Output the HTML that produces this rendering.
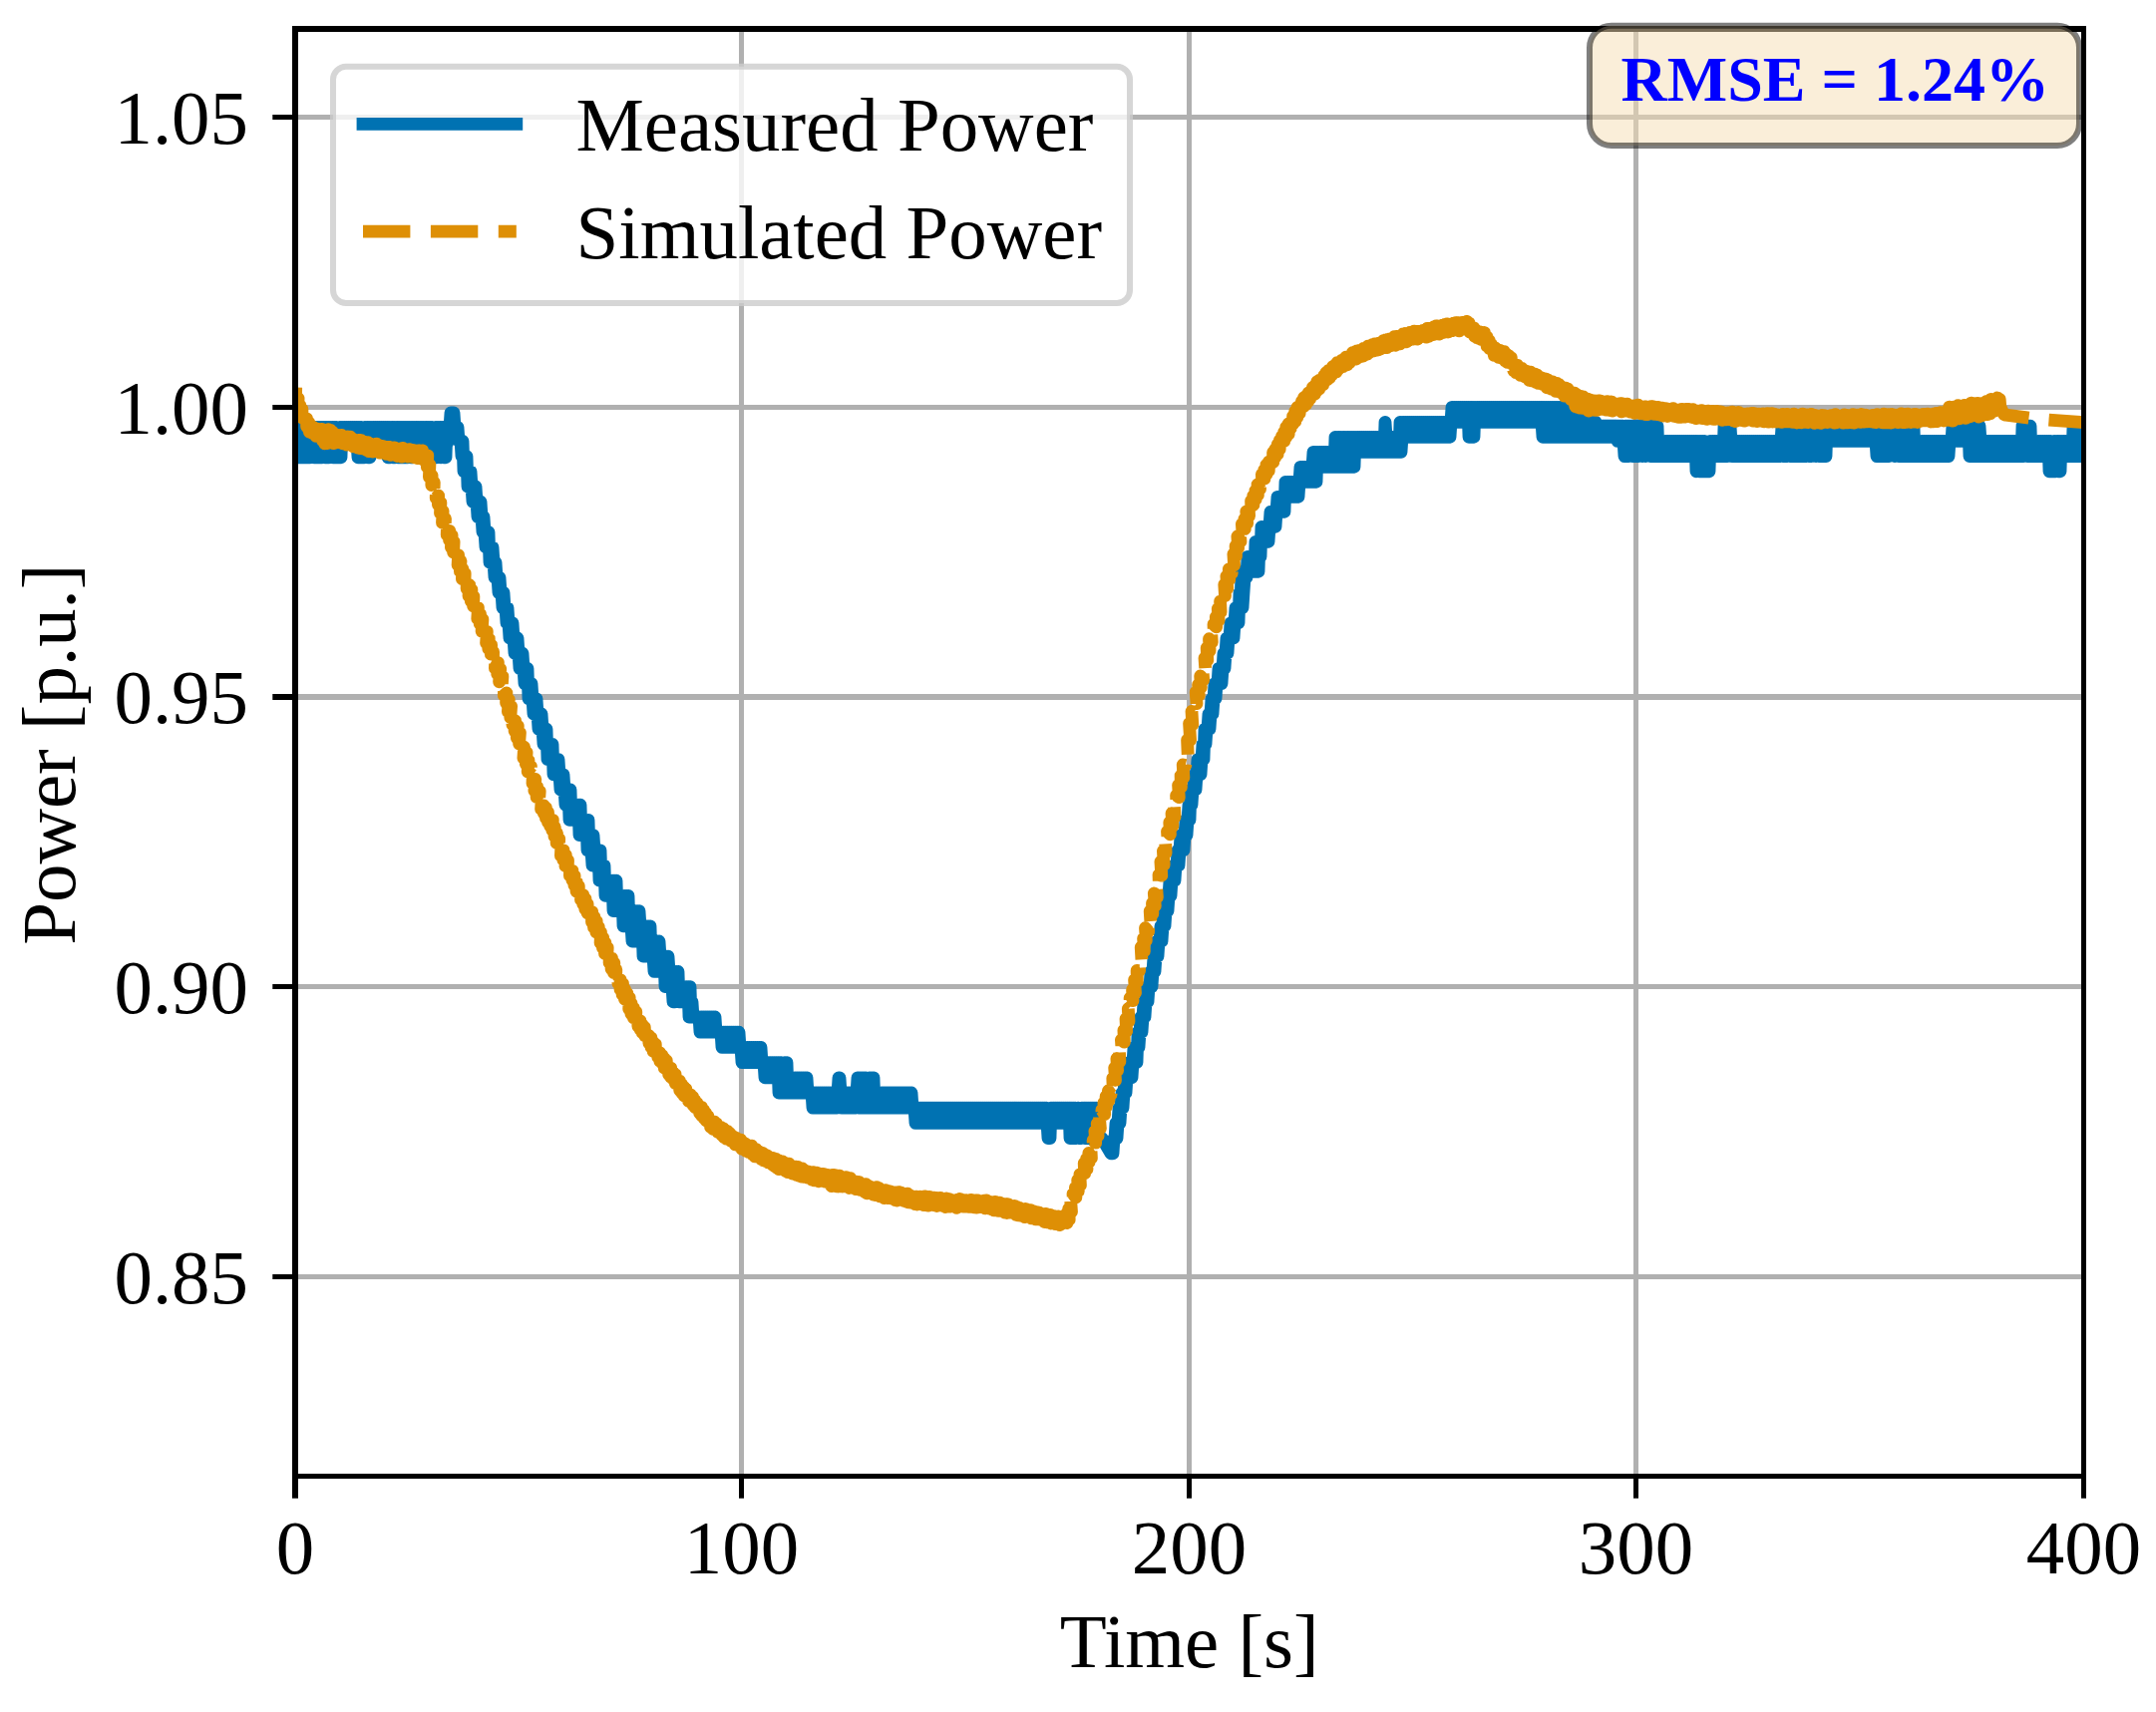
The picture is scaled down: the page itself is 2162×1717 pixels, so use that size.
<!DOCTYPE html>
<html lang="en"><head><meta charset="utf-8"><title>Measured vs Simulated Power</title>
<style>html,body{margin:0;padding:0;background:#fff}svg{display:block}text{font-family:"Liberation Serif",serif;fill:#000}</style></head><body>
<svg width="2162" height="1717" viewBox="0 0 2162 1717">
<rect width="2162" height="1717" fill="#fff"/>
<defs><clipPath id="ax"><rect x="296" y="29" width="1793.5" height="1451.5"/></clipPath></defs>
<g fill="#b0b0b0">
<rect x="741" y="29" width="5" height="1452"/>
<rect x="1190" y="29" width="5" height="1452"/>
<rect x="1638" y="29" width="5" height="1452"/>
<rect x="296" y="115" width="1794" height="5"/>
<rect x="296" y="406" width="1794" height="5"/>
<rect x="296" y="696" width="1794" height="6"/>
<rect x="296" y="987" width="1794" height="5"/>
<rect x="296" y="1278" width="1794" height="5"/>
</g>
<g clip-path="url(#ax)" fill="none" stroke-linejoin="round">
<polyline stroke="#0072b2" stroke-width="12.8" points="296,428.5 297,458.8 298,428.5 299,458.8 300,428.5 301,458.8 302,428.5 303,458.8 304,428.5 305,458.8 306,428.5 307,458.8 308,428.5 309,458.8 310,428.5 311,458.8 312,428.5 313,443.7 314,428.5 315,458.8 316,428.5 317,458.8 318,428.5 319,458.8 320,428.5 321,458.8 322,428.5 323,458.8 324,428.5 325,443.7 326,458.8 327,428.5 328,458.8 329,428.5 330,458.8 331,428.5 332,443.7 333,428.5 334,458.8 335,428.5 336,458.8 337,428.5 338,458.8 339,443.7 340,458.8 341,428.5 342,458.8 343,428.5 344,443.7 345,428.5 346,443.7 347,428.5 348,443.7 349,428.5 350,443.7 351,428.5 352,443.7 353,428.5 354,443.7 355,428.5 356,443.7 357,428.5 358,443.7 359,458.8 360,428.5 361,458.8 362,428.5 363,458.8 364,443.7 365,458.8 366,428.5 367,443.7 368,428.5 369,458.8 370,428.5 371,458.8 372,428.5 373,443.7 374,428.5 375,443.7 376,428.5 377,443.7 378,428.5 379,443.7 380,428.5 381,443.7 382,428.5 383,443.7 384,428.5 385,443.7 386,428.5 387,443.7 388,428.5 389,458.8 390,428.5 391,458.8 392,443.7 393,428.5 394,458.8 395,428.5 396,458.8 397,443.7 398,428.5 399,458.8 400,428.5 401,458.8 402,428.5 403,458.8 404,428.5 405,458.8 406,428.5 407,458.8 408,428.5 409,458.8 410,428.5 411,443.7 412,458.8 413,428.5 414,458.8 415,428.5 416,443.7 417,428.5 418,458.8 419,428.5 420,443.7 421,458.8 422,428.5 423,458.8 424,428.5 425,458.8 426,443.7 427,428.5 428,458.8 429,428.5 430,458.8 431,428.5 432,458.8 433,428.5 434,458.8 435,443.7 436,458.8 437,428.5 438,458.8 439,428.5 440,443.7 441,428.5 442,458.8 443,443.7 444,428.5 445,458.8 446,428.5 447,458.8 448,428.5 449,443.7 450,428.5 451,428.5 452,414 453,414 454,414 455,414 456,428.5 457,428.5 458,428.5 459,428.5 460,442.4 461,442.4 462,442.4 463,457.6 464,442.4 465,472.8 466,457.6 467,472.8 468,457.6 469,488 470,472.8 471,488 472,472.8 473,488 474,503.2 475,488 476,503.2 477,488 478,503.2 479,518.4 480,503.2 481,518.4 482,503.2 483,518.4 484,533.6 485,518.4 486,533.6 487,548.8 488,533.6 489,548.8 490,533.6 491,564 492,548.8 493,564 494,548.8 495,564 496,579.2 497,564 498,579.2 499,579.2 500,594.4 501,579.2 502,594.4 503,594.4 504,609.6 505,594.4 506,609.6 507,609.6 508,624.8 509,609.6 510,624.8 511,640 512,624.8 513,640 514,624.8 515,640 516,655.2 517,640 518,655.2 519,640 520,655.2 521,670.4 522,655.2 523,670.4 524,655.2 525,670.4 526,685.6 527,670.4 528,685.6 529,670.4 530,700.8 531,685.6 532,700.8 533,685.6 534,700.8 535,716 536,700.8 537,716 538,700.8 539,716 540,731.2 541,716 542,731.2 543,716 544,731.2 545,746.4 546,731.2 547,746.4 548,731.2 549,761.6 550,746.4 551,761.6 552,746.4 553,761.6 554,746.4 555,776.8 556,761.6 557,776.8 558,761.6 559,776.8 560,761.6 561,776.8 562,792 563,776.8 564,792 565,776.8 566,792 567,807.2 568,792 569,807.2 570,792 571,822.4 572,792 573,822.4 574,807.2 575,822.4 576,807.2 577,822.4 578,807.2 579,822.4 580,807.2 581,837.6 582,807.2 583,837.6 584,822.4 585,837.6 586,822.4 587,837.6 588,822.4 589,852.8 590,822.4 591,852.8 592,837.6 593,852.8 594,868 595,837.6 596,852.8 597,868 598,852.8 599,868 600,852.8 601,883.2 602,852.8 603,883.2 604,868 605,883.2 606,868 607,898.4 608,883.2 609,898.4 610,883.2 611,898.4 612,883.2 613,898.4 614,883.2 615,913.6 616,883.2 617,913.6 618,883.2 619,913.6 620,898.4 621,913.6 622,898.4 623,913.6 624,898.4 625,928.8 626,898.4 627,928.8 628,898.4 629,928.8 630,898.4 631,928.8 632,913.6 633,928.8 634,944 635,913.6 636,944 637,913.6 638,944 639,913.6 640,944 641,913.6 642,928.8 643,944 644,928.8 645,959.2 646,928.8 647,959.2 648,928.8 649,959.2 650,928.8 651,959.2 652,928.8 653,959.2 654,944 655,959.2 656,974.4 657,944 658,974.4 659,944 660,974.4 661,944 662,959.2 663,974.4 664,959.2 665,974.4 666,959.2 667,989.6 668,959.2 669,989.6 670,959.2 671,974.4 672,989.6 673,974.4 674,989.6 675,1004.8 676,974.4 677,1004.8 678,974.4 679,989.6 680,974.4 681,1004.8 682,989.6 683,1004.8 684,989.6 685,1004.8 686,989.6 687,1004.8 688,989.6 689,1004.8 690,989.6 691,1020 692,989.6 693,1020 694,1004.8 695,1020 697,1020 698,1020 699,1020 700,1020 701,1020 702,1035.2 703,1020 704,1035.2 705,1020 706,1035.2 707,1020 708,1035.2 709,1020 710,1035.2 711,1020 712,1035.2 713,1020 714,1035.2 715,1020 716,1035.2 717,1020 718,1035.2 719,1035.2 720,1035.2 721,1035.2 722,1035.2 723,1035.2 724,1050.4 725,1035.2 726,1050.4 727,1035.2 728,1050.4 729,1035.2 730,1050.4 731,1035.2 732,1050.4 733,1035.2 734,1050.4 735,1035.2 736,1050.4 737,1035.2 738,1050.4 739,1035.2 740,1050.4 741,1035.2 742,1050.4 743,1050.4 744,1065.6 745,1050.4 746,1065.6 747,1050.4 748,1065.6 749,1050.4 750,1065.6 751,1050.4 752,1065.6 753,1050.4 754,1065.6 755,1050.4 756,1065.6 757,1050.4 758,1065.6 759,1050.4 760,1065.6 761,1050.4 762,1065.6 763,1050.4 764,1065.6 765,1065.6 766,1065.6 767,1080.8 768,1065.6 769,1080.8 770,1065.6 771,1080.8 772,1065.6 773,1080.8 774,1065.6 775,1080.8 776,1065.6 777,1080.8 778,1065.6 779,1080.8 780,1065.6 781,1096 782,1080.8 783,1065.6 784,1096 785,1080.8 786,1096 787,1065.6 788,1096 789,1065.6 790,1096 791,1080.8 792,1096 793,1080.8 794,1096 795,1080.8 796,1096 797,1080.8 798,1096 799,1080.8 800,1096 801,1080.8 802,1096 803,1080.8 804,1096 805,1080.8 806,1096 807,1080.8 808,1096 809,1080.8 810,1096 811,1096 812,1096 813,1096 814,1096 815,1111.2 816,1096 817,1111.2 818,1096 819,1111.2 820,1096 821,1111.2 822,1096 823,1111.2 824,1096 825,1111.2 826,1096 827,1111.2 828,1096 829,1111.2 830,1096 831,1111.2 832,1096 833,1111.2 834,1096 835,1111.2 836,1096 837,1111.2 838,1096 839,1111.2 840,1096 841,1080.8 842,1080.8 843,1096 844,1111.2 845,1096 846,1111.2 847,1096 848,1111.2 849,1096 850,1111.2 851,1096 852,1111.2 853,1096 854,1111.2 855,1096 856,1111.2 857,1096 858,1111.2 859,1096 860,1080.8 861,1111.2 862,1080.8 863,1111.2 864,1080.8 865,1111.2 866,1080.8 867,1111.2 868,1080.8 869,1111.2 870,1096 871,1111.2 872,1080.8 873,1111.2 874,1080.8 875,1111.2 876,1080.8 877,1111.2 878,1096 879,1111.2 880,1096 881,1111.2 882,1096 883,1111.2 884,1096 885,1111.2 886,1096 887,1111.2 888,1096 889,1111.2 890,1096 891,1111.2 892,1096 893,1111.2 894,1096 895,1111.2 896,1096 897,1111.2 898,1096 899,1111.2 900,1096 901,1111.2 902,1096 903,1111.2 904,1096 905,1111.2 906,1096 907,1111.2 908,1096 909,1111.2 910,1096 911,1111.2 912,1096 913,1111.2 914,1096 915,1111.2 916,1111.2 917,1111.2 918,1126.4 919,1111.2 920,1126.4 921,1111.2 922,1126.4 923,1111.2 924,1126.4 925,1111.2 926,1126.4 927,1111.2 928,1126.4 929,1111.2 930,1126.4 931,1111.2 932,1126.4 933,1111.2 934,1126.4 935,1111.2 936,1126.4 937,1111.2 938,1126.4 939,1111.2 940,1126.4 941,1111.2 942,1126.4 943,1111.2 944,1126.4 945,1111.2 946,1126.4 947,1111.2 948,1126.4 949,1111.2 950,1126.4 951,1111.2 952,1126.4 953,1111.2 954,1126.4 955,1111.2 956,1126.4 957,1111.2 958,1126.4 959,1111.2 960,1126.4 961,1111.2 962,1126.4 963,1111.2 964,1126.4 965,1111.2 966,1126.4 967,1111.2 968,1126.4 969,1111.2 970,1126.4 971,1111.2 972,1126.4 973,1111.2 974,1126.4 975,1111.2 976,1126.4 977,1111.2 978,1126.4 979,1111.2 980,1126.4 981,1111.2 982,1126.4 983,1111.2 984,1126.4 985,1111.2 986,1126.4 987,1111.2 988,1126.4 989,1111.2 990,1126.4 991,1111.2 992,1126.4 993,1111.2 994,1126.4 995,1111.2 996,1126.4 997,1111.2 998,1126.4 999,1111.2 1000,1126.4 1001,1111.2 1002,1126.4 1003,1111.2 1004,1126.4 1005,1111.2 1006,1126.4 1007,1111.2 1008,1126.4 1009,1111.2 1010,1126.4 1011,1111.2 1012,1126.4 1013,1111.2 1014,1126.4 1015,1111.2 1016,1126.4 1017,1111.2 1018,1126.4 1019,1111.2 1020,1126.4 1021,1111.2 1022,1126.4 1023,1111.2 1024,1126.4 1025,1111.2 1026,1126.4 1027,1111.2 1028,1126.4 1029,1111.2 1030,1126.4 1031,1111.2 1032,1126.4 1033,1111.2 1034,1126.4 1035,1111.2 1036,1126.4 1037,1111.2 1038,1126.4 1039,1111.2 1040,1126.4 1041,1111.2 1042,1126.4 1043,1111.2 1044,1126.4 1045,1111.2 1046,1126.4 1047,1111.2 1048,1126.4 1049,1111.2 1050,1126.4 1051,1141.6 1052,1141.6 1053,1141.6 1054,1111.2 1055,1126.4 1056,1111.2 1057,1126.4 1058,1111.2 1059,1126.4 1060,1111.2 1061,1126.4 1062,1111.2 1063,1126.4 1064,1111.2 1065,1126.4 1066,1111.2 1067,1126.4 1068,1111.2 1069,1126.4 1070,1111.2 1071,1126.4 1072,1111.2 1073,1141.6 1074,1111.2 1075,1141.6 1076,1111.2 1077,1141.6 1078,1111.2 1079,1141.6 1080,1126.4 1081,1111.2 1082,1141.6 1083,1126.4 1084,1141.6 1085,1111.2 1086,1126.4 1087,1111.2 1088,1141.6 1089,1111.2 1090,1141.6 1091,1111.2 1092,1141.6 1093,1111.2 1094,1141.6 1095,1111.2 1096,1141.6 1097,1111.2 1098,1126.4 1099,1111.2 1100,1141.6 1101,1141.6 1102,1141.6 1103,1141.6 1104,1141.6 1105,1141.6 1114,1156.8 1115,1156.8 1116,1156.8 1117,1141.6 1118,1141.6 1119,1126.4 1120,1141.6 1121,1126.4 1122,1111.2 1123,1126.4 1124,1111.2 1125,1096 1126,1111.2 1127,1096 1128,1080.8 1129,1096 1130,1080.8 1131,1080.8 1132,1065.6 1133,1080.8 1134,1065.6 1135,1080.8 1136,1065.6 1137,1050.4 1138,1065.6 1139,1050.4 1140,1065.6 1141,1035.2 1142,1050.4 1143,1035.2 1144,1020 1145,1035.2 1146,1020 1147,1004.8 1148,1020 1149,1004.8 1150,989.6 1151,1004.8 1152,989.6 1153,989.6 1154,974.4 1155,989.6 1156,974.4 1157,959.2 1158,974.4 1159,959.2 1160,944 1161,959.2 1162,944 1163,944 1164,928.8 1165,944 1166,928.8 1167,913.6 1168,928.8 1169,913.6 1170,898.4 1171,913.6 1172,898.4 1173,883.2 1174,898.4 1175,883.2 1176,883.2 1177,868 1178,883.2 1179,868 1180,868 1181,852.8 1182,868 1183,852.8 1184,837.6 1185,852.8 1186,837.6 1187,852.8 1188,837.6 1189,822.4 1190,837.6 1191,822.4 1192,807.2 1193,822.4 1194,792 1195,807.2 1196,792 1197,792 1198,776.8 1199,792 1200,776.8 1201,761.6 1202,776.8 1203,761.6 1204,776.8 1205,761.6 1206,746.4 1207,761.6 1208,731.2 1209,746.4 1210,731.2 1211,731.2 1212,716 1213,731.2 1214,716 1215,700.8 1216,716 1217,700.8 1218,685.6 1219,700.8 1220,685.6 1221,685.6 1222,670.4 1223,685.6 1224,670.4 1225,685.6 1226,670.4 1227,655.2 1228,670.4 1229,655.2 1230,640 1231,655.2 1232,640 1233,640 1234,624.8 1235,640 1236,624.8 1237,640 1238,624.8 1239,609.6 1240,624.8 1241,609.6 1242,624.8 1243,594.4 1244,609.6 1245,573.3 1246,609.6 1247,594.4 1248,579.2 1249,579.2 1250,579.2 1251,558.3 1252,573.3 1253,558.3 1254,573.3 1255,558.3 1256,573.3 1257,558.3 1258,573.3 1259,543.3 1260,573.3 1261,543.3 1262,573.3 1263,543.3 1264,558.3 1265,528.3 1266,543.3 1267,528.3 1268,543.3 1269,528.3 1270,543.3 1271,528.3 1272,543.3 1273,528.3 1274,513.3 1275,528.3 1276,513.3 1277,528.3 1278,513.3 1279,528.3 1280,513.3 1281,498.3 1282,513.3 1283,498.3 1284,513.3 1285,498.3 1286,513.3 1287,498.3 1288,513.3 1289,483.3 1290,498.3 1291,483.3 1292,498.3 1293,483.3 1294,498.3 1295,483.3 1296,498.3 1297,483.3 1298,498.3 1299,483.3 1300,498.3 1301,483.3 1302,498.3 1303,483.3 1304,468.3 1305,483.3 1306,468.3 1307,483.3 1308,468.3 1309,483.3 1310,468.3 1311,483.3 1312,468.3 1313,483.3 1314,468.3 1315,483.3 1316,468.3 1317,453.3 1318,483.3 1319,453.3 1320,483.3 1321,453.3 1322,468.3 1323,453.3 1324,468.3 1325,453.3 1326,468.3 1327,453.3 1328,468.3 1329,453.3 1330,468.3 1331,453.3 1332,468.3 1333,453.3 1334,468.3 1335,453.3 1336,468.3 1337,453.3 1338,468.3 1339,438.3 1340,468.3 1341,453.3 1342,438.3 1343,468.3 1344,438.3 1345,468.3 1346,453.3 1347,438.3 1348,468.3 1349,438.3 1350,453.3 1351,438.3 1352,468.3 1353,438.3 1354,468.3 1355,438.3 1356,468.3 1357,438.3 1358,468.3 1359,438.3 1360,453.3 1361,438.3 1362,453.3 1363,438.3 1364,453.3 1365,438.3 1366,453.3 1367,438.3 1368,453.3 1369,438.3 1370,453.3 1371,438.3 1372,453.3 1373,438.3 1374,453.3 1375,438.3 1376,453.3 1377,438.3 1378,453.3 1379,438.3 1380,453.3 1381,438.3 1382,453.3 1383,438.3 1384,453.3 1385,438.3 1386,453.3 1387,438.3 1388,453.3 1389,423.3 1390,438.3 1391,453.3 1392,438.3 1393,453.3 1394,438.3 1395,453.3 1396,438.3 1397,453.3 1398,438.3 1399,453.3 1400,438.3 1401,453.3 1402,438.3 1403,453.3 1404,423.3 1405,453.3 1406,438.3 1407,423.3 1408,438.3 1409,423.3 1410,438.3 1411,423.3 1412,438.3 1413,423.3 1414,438.3 1415,423.3 1416,438.3 1417,423.3 1418,438.3 1419,423.3 1420,438.3 1421,423.3 1422,438.3 1423,423.3 1424,438.3 1425,423.3 1426,438.3 1427,423.3 1428,438.3 1429,423.3 1430,438.3 1431,423.3 1432,438.3 1433,423.3 1434,438.3 1435,423.3 1436,438.3 1437,423.3 1438,438.3 1439,423.3 1440,438.3 1441,423.3 1442,438.3 1443,423.3 1444,438.3 1445,423.3 1446,438.3 1447,423.3 1448,438.3 1449,423.3 1450,438.3 1451,423.3 1452,438.3 1453,423.3 1454,438.3 1455,423.3 1456,408.3 1457,423.3 1458,408.3 1459,423.3 1460,408.3 1461,423.3 1462,408.3 1463,423.3 1464,408.3 1465,423.3 1466,408.3 1467,423.3 1468,408.3 1469,423.3 1470,408.3 1471,423.3 1472,408.3 1473,438.3 1474,423.3 1475,408.3 1476,438.3 1477,408.3 1478,438.3 1479,408.3 1480,423.3 1481,408.3 1482,423.3 1483,408.3 1484,423.3 1485,408.3 1486,423.3 1487,408.3 1488,423.3 1489,408.3 1490,423.3 1491,408.3 1492,423.3 1493,408.3 1494,423.3 1495,408.3 1496,423.3 1497,408.3 1498,423.3 1499,408.3 1500,423.3 1501,408.3 1502,423.3 1503,408.3 1504,423.3 1505,408.3 1506,423.3 1507,408.3 1508,423.3 1509,408.3 1510,423.3 1511,408.3 1512,423.3 1513,408.3 1514,423.3 1515,408.3 1516,423.3 1517,408.3 1518,423.3 1519,408.3 1520,423.3 1521,408.3 1522,423.3 1523,408.3 1524,423.3 1525,408.3 1526,423.3 1527,408.3 1528,423.3 1529,408.3 1530,423.3 1531,408.3 1532,423.3 1533,408.3 1534,423.3 1535,408.3 1536,423.3 1537,408.3 1538,423.3 1539,408.3 1540,423.3 1541,408.3 1542,423.3 1543,408.3 1544,423.3 1545,408.3 1546,423.3 1547,438.3 1548,408.3 1549,438.3 1550,408.3 1551,438.3 1552,408.3 1553,438.3 1554,408.3 1555,438.3 1556,408.3 1557,438.3 1558,408.3 1559,438.3 1560,408.3 1561,438.3 1562,408.3 1563,438.3 1564,408.3 1565,438.3 1566,408.3 1567,438.3 1568,408.3 1569,438.3 1570,423.3 1571,438.3 1572,408.3 1573,438.3 1574,408.3 1575,438.3 1576,408.3 1577,438.3 1578,408.3 1579,438.3 1580,408.3 1581,438.3 1582,408.3 1583,438.3 1584,408.3 1585,438.3 1586,408.3 1587,438.3 1588,408.3 1589,438.3 1590,408.3 1591,438.3 1592,423.3 1593,438.3 1594,423.3 1595,438.3 1596,423.3 1597,438.3 1598,423.3 1599,438.3 1600,423.3 1601,427.2 1602,438.3 1603,427.2 1604,438.3 1605,427.2 1606,438.3 1607,427.2 1608,438.3 1609,427.2 1610,438.3 1611,427.2 1612,438.3 1613,427.2 1614,438.3 1615,427.2 1616,438.3 1617,427.2 1618,438.3 1619,427.2 1620,438.3 1621,427.2 1622,442.4 1623,427.2 1624,442.4 1625,427.2 1626,442.4 1627,427.2 1628,442.4 1629,457.6 1630,427.2 1631,457.6 1632,427.2 1633,457.6 1634,427.2 1635,442.4 1636,427.2 1637,457.6 1638,427.2 1639,457.6 1640,427.2 1641,457.6 1642,427.2 1643,457.6 1644,427.2 1645,442.4 1646,427.2 1647,457.6 1648,442.4 1649,427.2 1650,457.6 1651,442.4 1652,427.2 1653,442.4 1654,427.2 1655,457.6 1656,442.4 1657,457.6 1658,427.2 1659,457.6 1660,427.2 1661,457.6 1662,427.2 1663,457.6 1664,442.4 1665,457.6 1666,442.4 1667,457.6 1668,442.4 1669,457.6 1670,442.4 1671,457.6 1672,442.4 1673,457.6 1674,442.4 1675,457.6 1676,442.4 1677,457.6 1678,442.4 1679,457.6 1680,442.4 1681,457.6 1682,442.4 1683,457.6 1684,442.4 1685,457.6 1686,442.4 1687,457.6 1688,442.4 1689,457.6 1690,442.4 1691,457.6 1692,442.4 1693,457.6 1694,442.4 1695,457.6 1696,442.4 1697,457.6 1698,442.4 1699,457.6 1700,442.4 1701,472.8 1702,442.4 1703,457.6 1704,472.8 1705,442.4 1706,472.8 1707,442.4 1708,472.8 1709,442.4 1710,472.8 1711,457.6 1712,472.8 1713,457.6 1714,472.8 1715,442.4 1716,457.6 1717,442.4 1718,457.6 1719,442.4 1720,457.6 1721,442.4 1722,457.6 1723,442.4 1724,457.6 1725,442.4 1726,457.6 1727,442.4 1728,457.6 1729,427.2 1730,457.6 1731,427.2 1732,457.6 1733,427.2 1734,442.4 1735,427.2 1736,442.4 1737,457.6 1738,442.4 1739,457.6 1740,442.4 1741,457.6 1742,442.4 1743,457.6 1744,442.4 1745,457.6 1746,442.4 1747,457.6 1748,442.4 1749,457.6 1750,442.4 1751,457.6 1752,442.4 1753,457.6 1754,442.4 1755,457.6 1756,442.4 1757,457.6 1758,442.4 1759,457.6 1760,442.4 1761,457.6 1762,442.4 1763,457.6 1764,442.4 1765,457.6 1766,442.4 1767,457.6 1768,442.4 1769,457.6 1770,442.4 1771,457.6 1772,442.4 1773,457.6 1774,442.4 1775,457.6 1776,442.4 1777,457.6 1778,442.4 1779,457.6 1780,442.4 1781,457.6 1782,442.4 1783,457.6 1784,442.4 1785,457.6 1786,442.4 1787,427.2 1788,457.6 1789,427.2 1790,457.6 1791,427.2 1792,457.6 1793,442.4 1794,427.2 1795,457.6 1796,427.2 1797,457.6 1798,442.4 1799,457.6 1800,427.2 1801,442.4 1802,457.6 1803,427.2 1804,457.6 1805,427.2 1806,442.4 1807,457.6 1808,427.2 1809,457.6 1810,442.4 1811,457.6 1812,442.4 1813,427.2 1814,457.6 1815,442.4 1816,457.6 1817,442.4 1818,427.2 1819,442.4 1820,427.2 1821,457.6 1822,442.4 1823,427.2 1824,457.6 1825,442.4 1826,457.6 1827,427.2 1828,442.4 1829,457.6 1830,427.2 1831,457.6 1832,427.2 1833,442.4 1834,427.2 1835,442.4 1836,427.2 1837,442.4 1838,427.2 1839,442.4 1840,427.2 1841,442.4 1842,427.2 1843,442.4 1844,427.2 1845,442.4 1846,427.2 1847,442.4 1848,427.2 1849,442.4 1850,427.2 1851,442.4 1852,427.2 1853,442.4 1854,427.2 1855,442.4 1856,427.2 1857,442.4 1858,427.2 1859,442.4 1860,427.2 1861,442.4 1862,427.2 1863,442.4 1864,427.2 1865,442.4 1866,427.2 1867,442.4 1868,427.2 1869,442.4 1870,427.2 1871,442.4 1872,427.2 1873,442.4 1874,427.2 1875,442.4 1876,427.2 1877,442.4 1878,427.2 1879,442.4 1880,427.2 1881,442.4 1882,457.6 1883,427.2 1884,457.6 1885,427.2 1886,457.6 1887,427.2 1888,457.6 1889,427.2 1890,457.6 1891,427.2 1892,457.6 1893,427.2 1894,457.6 1895,427.2 1896,442.4 1897,427.2 1898,442.4 1899,427.2 1900,457.6 1901,427.2 1902,442.4 1903,427.2 1904,457.6 1905,427.2 1906,457.6 1907,427.2 1908,457.6 1909,427.2 1910,457.6 1911,427.2 1912,457.6 1913,427.2 1914,457.6 1915,427.2 1916,457.6 1917,427.2 1918,457.6 1919,427.2 1920,457.6 1921,442.4 1922,457.6 1923,442.4 1924,457.6 1925,442.4 1926,457.6 1927,442.4 1928,457.6 1929,442.4 1930,457.6 1931,442.4 1932,457.6 1933,442.4 1934,457.6 1935,442.4 1936,457.6 1937,442.4 1938,457.6 1939,442.4 1940,457.6 1941,442.4 1942,457.6 1943,442.4 1944,457.6 1945,442.4 1946,457.6 1947,442.4 1948,457.6 1949,442.4 1950,457.6 1951,442.4 1952,457.6 1953,442.4 1954,457.6 1955,442.4 1956,442.4 1957,442.4 1958,427.2 1959,442.4 1960,427.2 1961,442.4 1962,427.2 1963,442.4 1964,427.2 1965,442.4 1966,427.2 1967,442.4 1968,427.2 1969,442.4 1970,427.2 1971,442.4 1972,427.2 1973,442.4 1974,427.2 1975,457.6 1976,427.2 1977,457.6 1978,427.2 1979,457.6 1980,427.2 1981,457.6 1982,427.2 1983,442.4 1984,457.6 1985,427.2 1986,442.4 1987,457.6 1988,442.4 1989,457.6 1990,442.4 1991,457.6 1992,442.4 1993,457.6 1994,442.4 1995,457.6 1996,442.4 1997,457.6 1998,442.4 1999,457.6 2000,442.4 2001,457.6 2002,442.4 2003,457.6 2004,442.4 2005,457.6 2006,442.4 2007,457.6 2008,442.4 2009,457.6 2010,442.4 2011,457.6 2012,442.4 2013,457.6 2014,442.4 2015,457.6 2016,442.4 2017,457.6 2018,442.4 2019,457.6 2020,442.4 2021,457.6 2022,442.4 2023,457.6 2024,442.4 2025,457.6 2026,442.4 2027,457.6 2028,427.2 2029,457.6 2030,427.2 2031,442.4 2032,427.2 2033,457.6 2034,427.2 2035,457.6 2036,427.2 2037,457.6 2038,442.4 2039,457.6 2040,442.4 2041,457.6 2042,442.4 2043,457.6 2044,442.4 2045,457.6 2046,442.4 2047,457.6 2048,442.4 2049,457.6 2050,442.4 2051,457.6 2052,442.4 2053,457.6 2054,442.4 2055,472.8 2056,442.4 2057,472.8 2058,457.6 2059,472.8 2060,442.4 2061,472.8 2062,457.6 2063,442.4 2064,472.8 2065,442.4 2066,472.8 2067,442.4 2068,457.6 2069,442.4 2070,457.6 2071,442.4 2072,457.6 2073,442.4 2074,457.6 2075,442.4 2076,457.6 2077,442.4 2078,457.6 2079,427.2 2080,457.6 2081,427.2 2082,457.6 2083,442.4 2084,457.6 2085,427.2 2086,457.6 2087,442.4 2088,457.6 2089,427.2"/>
<polyline stroke="#de8f05" stroke-width="12.8" stroke-dasharray="53.9 14" points="296.7,388.6 296.4,400.8 299.1,399.5 298.6,410.6 300.9,406.8 301.1,415.4 302.9,410.6 303.1,419.2 305.3,415.1 305.3,423.8 307.5,419.8 307.6,427.9 309.7,423.8 310.3,433.1 311.4,426.9 312.5,434.2 313.6,428 314.7,437.1 315.8,429.4 316.9,437.4 318,430 319.1,437.7 320.2,430.9 321.3,438.9 322.4,430.3 323.5,441.8 324.6,430.5 325.7,444.8 326.8,431.6 327.9,444.7 329,430.6 330.1,444.4 331.2,431.3 332.3,443.8 333.4,433.4 334.5,444.7 335.6,435.2 336.7,442.9 337.8,436.3 338.9,443.7 340,436.5 341.1,443.6 342.2,436.3 343.3,444.8 344.4,437.7 345.5,445 346.6,437.7 347.7,446.2 348.8,438 349.9,445.8 351,438.2 352.1,446.1 353.2,439.9 354.3,447.9 355.4,441.1 356.5,448.1 357.6,442 358.7,449.1 359.8,441.3 360.9,449.6 362,441.7 363.1,449.8 364.2,442.7 365.3,451 366.4,443.6 367.5,451.4 368.6,443.7 369.7,452.7 370.8,444.8 371.9,452.6 373,445.9 374.1,453 375.2,445.2 376.3,453.9 377.4,445.2 378.5,453 379.6,446.4 380.7,454 381.8,447.4 382.9,454 384,447.5 385.1,453.8 386.2,448.1 387.3,455.4 388.4,448.4 389.5,454.8 390.6,448.3 391.7,456.3 392.8,449.3 393.9,456 395,448.8 396.1,457.2 397.2,448.7 398.3,457.5 399.4,450.1 400.5,457.1 401.6,450.3 402.7,458.2 403.8,449.4 404.9,457 406,451 407.1,457.4 408.2,451.1 409.3,458 410.4,450.6 411.5,457.8 412.6,451.8 413.7,458.3 414.8,451.5 415.9,458.9 417,450.8 418.1,459.5 419.2,451.9 420.3,459.7 421.4,452 422.5,459 423.6,451.9 424.7,461.1 425.8,453.2 426.9,462.4 428.8,456.9 428.3,468.1 430.9,466 430.4,478.3 433.1,476.9 432.8,486.5 435.3,483.7 435,493.2 437.6,489.9 437.2,499.4 439.6,497 439.4,506.1 441.9,504.1 441.5,514.7 444.1,512.7 443.5,524.1 446.5,520.1 446.1,530.5 448.5,527 448.2,536.4 450.7,532.4 450.5,541.6 453.1,537.1 452.4,548.9 455.1,543.5 454.6,553.9 457.3,550.6 457,559.7 459.6,556.7 459.1,566.6 462,562.4 461.4,573.1 463.8,570.5 463.4,580.7 466.2,575.3 465.9,584.9 468.4,580.9 468.1,590.3 470.6,586.6 470,597.7 472.9,591.6 472.3,602.9 474.9,598.4 474.6,607.9 477,604.2 476.6,614.5 479.4,609.6 478.8,620.6 481.5,616.1 481.2,625.7 483.9,621.3 483.1,633.2 486.2,627.3 485.4,638.9 488.3,633.5 487.6,644.9 490.3,640.7 489.8,650.8 492.6,646.8 492.3,656.2 494.6,653.7 494.4,663 496.9,659.6 496.4,670.1 499.4,664.7 498.7,675.9 501.7,671 500.6,683.8 503.9,678.5 503.1,690.2 505.8,687.4 505.3,697.5 507.9,695 507.6,705 510.3,701.7 509.4,713.8 512.6,708.4 511.8,719.6 514.7,715.3 513.9,726.8 516.7,723 516.1,733.2 519.3,728.1 518.3,740 521.4,735 520.6,746 523.3,742.7 522.7,753.4 525.6,749.2 524.9,760.2 528.1,754.8 527.3,766.2 530,762.6 529.2,774 532.4,768.8 531.8,779.3 534.3,776.5 534,785.7 536.8,781.3 535.9,793.1 538.7,789 538.1,799.4 541.2,793.7 540.4,805.4 543.2,801.1 542.6,811.5 545.2,807.8 545.3,815.6 547.4,810.2 547.4,820.5 549.5,814.8 549.5,824.8 551.7,818.7 551.7,828.5 554.3,822.4 553.8,832.8 556.3,829.4 556,838.9 558.5,835.4 558.1,845.5 560.7,841.4 560.3,851.2 562.9,847.6 562.4,858.1 565,852.8 564.8,862.4 567.3,857.6 566.9,868.4 569.5,863.1 569.1,873.7 571.7,868.1 571.4,878.1 573.9,873.2 573.8,882.4 576.1,878.6 575.9,887.8 578.1,884.6 578,893.9 580.3,888.8 580.3,897.7 582.7,892.3 582.5,902.4 584.7,897.5 584.7,906.8 587,901.5 586.8,911.8 589.1,906.8 589.1,915.8 591.3,911.1 591.4,919.8 593.7,914.6 593.5,924.7 595.9,919.7 595.5,930.2 598.2,924.2 597.8,934.8 600.3,930 600,940.1 602.5,935.3 602.1,945.6 604.7,940.6 604.4,950.5 606.9,945.7 606.5,956.5 609.2,950.5 608.7,961.5 611.4,955.2 611.1,965.6 613.5,961.1 613.1,972 615.8,965.8 615.5,975.7 617.8,972.3 617.6,981.4 619.9,977.6 619.9,986.2 622.1,982.7 622,992.2 624.5,986.5 624.1,997.5 626.5,992.4 626.4,1002 628.9,996.3 628.8,1005.7 631.2,1000.7 630.7,1012 633.1,1006.7 632.9,1016.7 635.4,1011.1 635.3,1020.7 637.8,1014.8 637.4,1026.1 639.6,1020.9 639.9,1029.2 641.9,1023.7 642.1,1032.5 644,1027.7 644.3,1035.9 646.3,1030.2 646.6,1038.8 648.5,1034 648.7,1043 650.5,1038.4 650.9,1046.3 652.9,1040.7 653,1050.1 655,1045.2 655.1,1054.4 657.3,1047.3 657.3,1057.8 659.4,1052 659.7,1060 661.5,1055.6 661.8,1064.2 663.8,1058.4 664.1,1066.3 666,1061.4 666.2,1071.1 668.3,1064 668.5,1073.1 670.4,1068.5 670.6,1077.6 672.7,1071 672.8,1080.5 674.7,1075.2 675.2,1082.6 677.1,1077.4 677.3,1086.6 679.1,1081.8 679.4,1090.8 681.4,1084.1 681.7,1093.6 683.5,1087.7 683.9,1096.3 685.7,1090.4 686.1,1098.9 687.9,1092.3 688.4,1100.6 690.2,1094.7 690.5,1104.3 692.3,1097.9 692.8,1105.5 694.6,1100.1 695,1108.3 696.7,1103.5 697.2,1110.8 698.9,1106.2 699.4,1113.5 701.1,1108.4 701.6,1116.4 703.4,1110.3 703.8,1119.1 705.6,1113.5 706,1121.6 707.7,1116.5 708.2,1124 709.9,1119.4 710.4,1126.7 712.2,1121.2 712.5,1130.4 714,1124.9 715.1,1132.4 716.2,1125 717.3,1133.2 718.4,1126.7 719.5,1135.3 720.6,1128.8 721.7,1137.5 722.8,1130.5 723.9,1138.5 725,1131.5 726.1,1140.8 727.2,1133.6 728.3,1142.1 729.4,1134.5 730.5,1143.2 731.6,1136.5 732.7,1144.2 733.8,1138.7 734.9,1145.3 736,1140.2 737.1,1147.9 738.2,1141.3 739.3,1148.4 740.4,1143.2 741.5,1151.1 742.6,1143.2 743.7,1152.3 744.8,1145.6 745.9,1152.7 747,1146.8 748.1,1154.3 749.2,1148.2 750.3,1155.4 751.4,1149.2 752.5,1157.5 753.6,1149.1 754.7,1158 755.8,1151.6 756.9,1159.9 758,1152.6 759.1,1160 760.2,1154.4 761.3,1161.2 762.4,1154.7 763.5,1162.6 764.6,1156.4 765.7,1163.8 766.8,1157.9 767.9,1164.5 769,1158.9 770.1,1165.9 771.2,1160.2 772.3,1166.4 773.4,1160.9 774.5,1168 775.6,1161.5 776.7,1169.7 777.8,1162.4 778.9,1171.1 780,1163.7 781.1,1172.7 782.2,1165.3 783.3,1172.5 784.4,1164.9 785.5,1172.9 786.6,1166.1 787.7,1174.5 788.8,1168.1 789.9,1175.6 791,1167.2 792.1,1175.9 793.2,1168.3 794.3,1177 795.4,1170.1 796.5,1177.2 797.6,1170.1 798.7,1178.4 799.8,1170.3 800.9,1179.1 802,1171.4 803.1,1180 804.2,1171.9 805.3,1180.3 806.4,1173.5 807.5,1179.8 808.6,1174.4 809.7,1181.1 810.8,1175.1 811.9,1182.7 813,1175 814.1,1183.1 815.2,1175.6 816.3,1183.8 817.4,1176.3 818.5,1183 819.6,1176.2 820.7,1184.8 821.8,1177.2 822.9,1184.8 824,1177.3 825.1,1184.4 826.2,1177.6 827.3,1185.2 828.4,1179.3 829.5,1185.6 830.6,1178.5 831.7,1185.9 832.8,1177.2 833.9,1189.7 835,1178.3 836.1,1188.6 837.2,1178.7 838.3,1189.8 839.4,1178.4 840.5,1190 841.6,1179.2 842.7,1189.1 843.8,1180.9 844.9,1190 846,1179.8 847.1,1190.5 848.2,1180.7 849.3,1190.2 850.4,1182.5 851.5,1191.5 852.6,1181.6 853.7,1191.6 854.8,1183.9 855.9,1191.6 857,1184.9 858.1,1192.5 859.2,1185.6 860.3,1192.6 861.4,1185.5 862.5,1193.4 863.6,1186 864.7,1195.4 865.8,1188.4 866.9,1195.2 868,1187.6 869.1,1196.8 870.2,1189 871.3,1196.1 872.4,1190.1 873.5,1198.1 874.6,1190.7 875.7,1198 876.8,1191.5 877.9,1198.6 879,1190.7 880.1,1198.5 881.2,1191.6 882.3,1199.9 883.4,1192.1 884.5,1200.8 885.6,1193.8 886.7,1201.6 887.8,1193.7 888.9,1200.4 890,1195.1 891.1,1201.7 892.2,1194.7 893.3,1201.8 894.4,1195.7 895.5,1202.3 896.6,1195.8 897.7,1203.7 898.8,1196.8 899.9,1204 901,1195.7 902.1,1203.3 903.2,1196 904.3,1204.8 905.4,1196.5 906.5,1204.4 907.6,1197.9 908.7,1205.1 909.8,1197.2 910.9,1205.9 912,1198.8 913.1,1206 914.2,1199.4 915.3,1205.8 916.4,1200.2 917.5,1207.6 918.6,1200.2 919.7,1208 920.8,1200.4 921.9,1207 923,1200.2 924.1,1207.1 925.2,1200.7 926.3,1208.7 927.4,1199.9 928.5,1208.7 929.6,1200.6 930.7,1209.1 931.8,1200.3 932.9,1208.6 934,1200.9 935.1,1208 936.2,1201.1 937.3,1208.9 938.4,1201.3 939.5,1209.5 940.6,1202.4 941.7,1208.6 942.8,1201.4 943.9,1209 945,1202.5 946.1,1209.6 947.2,1203 948.3,1210.5 949.4,1202 950.5,1209.9 951.6,1202.7 952.7,1210.1 953.8,1203 954.9,1210.3 956,1203.8 957.1,1209.9 958.2,1203.7 959.3,1211.3 960.4,1203.2 961.5,1210.1 962.6,1202.5 963.7,1211.6 964.8,1203.4 965.9,1210.1 967,1204 968.1,1210 969.2,1203.7 970.3,1210.1 971.4,1204 972.5,1210.4 973.6,1203.4 974.7,1211.7 975.8,1203.1 976.9,1210.8 978,1203.8 979.1,1211.1 980.2,1203.9 981.3,1210.8 982.4,1204.6 983.5,1210.7 984.6,1203 985.7,1210.6 986.8,1204.1 987.9,1211.9 989,1203.9 990.1,1211.6 991.2,1205.3 992.3,1212 993.4,1205.5 994.5,1212.8 995.6,1204.8 996.7,1213.9 997.8,1205.4 998.9,1212.7 1000,1207.3 1001.1,1214.4 1002.2,1206.1 1003.3,1214.3 1004.4,1207.1 1005.5,1213.9 1006.6,1207.9 1007.7,1216.1 1008.8,1207.6 1009.9,1216.5 1011,1207.9 1012.1,1215.9 1013.2,1210 1014.3,1216.2 1015.4,1209.7 1016.5,1217.7 1017.6,1209.5 1018.7,1218.3 1019.8,1210.5 1020.9,1218.9 1022,1211.4 1023.1,1219 1024.2,1212.6 1025.3,1219.9 1026.4,1212.8 1027.5,1220.7 1028.6,1212.5 1029.7,1220.1 1030.8,1214 1031.9,1220.5 1033,1213.6 1034.1,1221.8 1035.2,1215.1 1036.3,1221.3 1037.4,1215 1038.5,1222.8 1039.6,1215.8 1040.7,1222.8 1041.8,1216.1 1042.9,1223 1044,1217.3 1045.1,1224.5 1046.2,1216.7 1047.3,1225.5 1048.4,1217.4 1049.5,1225.8 1050.6,1219.3 1051.7,1225.8 1052.8,1218.3 1053.9,1227 1055,1219.8 1056.1,1226 1057.2,1219.7 1058.3,1227.6 1059.4,1220.2 1060.5,1227.1 1061.6,1220 1062.7,1228.6 1063.8,1221.2 1064.9,1227.3 1066,1221.3 1067.1,1228.3 1068.2,1220.9 1069.8,1226.5 1069.7,1217 1072.2,1223.1 1071.7,1212.3 1074.5,1215.5 1073.7,1204.2 1076.7,1208.4 1076,1197.2 1078.9,1201 1078.4,1191 1081.3,1194.7 1080.7,1183.6 1083.4,1188.7 1082.9,1177.8 1085.3,1181.8 1085.2,1172.8 1087.6,1176.8 1087.2,1166.5 1090,1172.3 1089.6,1162 1092,1165.8 1091.8,1156.4 1094.4,1161.3 1093.9,1151 1096.4,1153.3 1096.1,1143.7 1098.7,1146.2 1097.9,1134.4 1101.1,1139.3 1100.2,1126.9 1103.4,1131.8 1102.3,1118.8 1105.3,1122.8 1104.9,1113.2 1107.7,1117.6 1106.9,1105.9 1109.5,1109.7 1109.1,1099.7 1111.9,1104.1 1111.4,1094 1114.1,1097.7 1113.7,1088.1 1116.1,1090.8 1115.8,1081.4 1118.5,1083.5 1117.7,1070.9 1120.6,1073.8 1119.9,1061.7 1122.9,1064.8 1122.4,1053.6 1125.3,1056.7 1124.4,1042.9 1127.4,1045.2 1126.9,1033.3 1129.6,1034.4 1129,1021.8 1132,1024.2 1131.3,1011.7 1133.9,1013.6 1133.1,1001.1 1136,1003.7 1135.6,992.7 1138.5,995.8 1137.6,982.7 1140.4,984.7 1140.1,973.5 1142.6,973.6 1141.9,960.7 1144.9,962.8 1144.2,950 1147.4,953.8 1146.6,941.3 1149.3,943.2 1148.5,930.7 1151.6,934.4 1151,922.6 1153.9,925.5 1153.2,913.8 1155.9,916.2 1155.5,905.9 1158.3,908.6 1157.3,895.8 1160.4,899.9 1159.5,887.2 1162.4,889.2 1162,877.3 1164.8,878.2 1163.9,864.2 1167.2,867.3 1166.4,853.4 1169.1,855.3 1168.6,844 1171.4,846.6 1170.5,833.9 1173.4,836.9 1172.8,824.9 1175.9,828.7 1175,815.7 1178.1,819.4 1177.3,806.6 1180.1,809.1 1179.6,797.7 1182.3,799.7 1181.6,787.4 1184.4,789.5 1184.1,778 1186.9,779.8 1186.2,766.9 1188.8,767.5 1188.5,756.4 1191.2,757.1 1190.6,742.2 1193.6,742.3 1192.6,725.6 1195.8,726.8 1195,713.4 1197.6,714.6 1197.3,703.7 1200,705.7 1199.2,694 1202.2,697.6 1201.6,686.8 1204.3,689.5 1203.7,678 1206.7,681.9 1205.8,669.5 1208.9,673.1 1208,660 1210.8,662.1 1210.2,649.9 1213.1,652.7 1212.5,640.7 1215.3,644.1 1214.6,632.8 1217.4,636.3 1217,626.2 1219.7,628.8 1219.3,618.8 1222.1,622.5 1221.3,610.5 1224.1,613.9 1223.6,603.1 1226.6,607.1 1225.7,594.8 1228.5,597.7 1227.8,586.3 1230.8,590.5 1229.9,577.9 1232.8,581.4 1232.3,570.8 1235.3,574.8 1234.4,562.2 1237.6,566.9 1236.9,555.7 1239.5,557.8 1239.1,547.5 1241.6,549.6 1240.9,537.9 1244,543.2 1243.2,531.8 1246.1,536.5 1245.4,525.6 1248.3,530.4 1247.9,520.5 1250.7,524.8 1249.8,512.9 1252.6,517.3 1252.1,507.3 1254.9,512 1254.6,502.4 1256.9,506.4 1256.8,497.3 1259.1,500.9 1259,492 1261.4,496.5 1261.1,486 1263.5,490.5 1263.5,482 1265.7,485.6 1265.4,475.6 1267.9,480.2 1267.8,471.2 1270,475.5 1270,466.1 1272.3,472 1272.4,463.2 1274.3,466.9 1274.5,458.4 1276.7,463.5 1276.6,453.7 1278.7,458.5 1278.9,450.4 1281.1,455.4 1281.1,445.7 1283.2,450.4 1283.3,441.7 1285.6,447.4 1285.5,437.5 1287.7,442.5 1287.7,433.3 1289.8,438.2 1289.8,428.2 1292.2,435.1 1292.1,425 1294.2,429.5 1294.2,420.2 1296.4,425.4 1296.6,417.5 1298.8,422.6 1298.7,412.6 1300.9,418.3 1300.9,408.5 1303.2,414.3 1303.1,404.3 1305,409.5 1305.5,402.3 1307.3,407.6 1307.6,398.6 1309.5,405.7 1309.9,397 1311.7,402.5 1312.1,393.9 1313.8,399.7 1314.3,391.7 1316,396.7 1316.4,388.4 1318.3,395.3 1318.7,386.5 1320.4,391.9 1320.8,382.7 1322.7,390.1 1323.1,381.2 1324.5,386.3 1325.6,377.7 1326.7,385.7 1327.8,376.5 1328.9,382 1330,373.6 1331.1,380.5 1332.2,371.6 1333.3,378.8 1334.4,369.6 1335.5,375.9 1336.6,367.6 1337.7,373.9 1338.8,366.2 1339.9,373 1341,363.6 1342.1,370.3 1343.2,363.3 1344.3,369.3 1345.4,361.3 1346.5,367.8 1347.6,360.6 1348.7,366.1 1349.8,358.1 1350.9,365.9 1352,357.9 1353.1,363.8 1354.2,355.1 1355.3,361.4 1356.4,353.6 1357.5,360.3 1358.6,352.9 1359.7,360.1 1360.8,351.9 1361.9,358.6 1363,351.3 1364.1,358.2 1365.2,350.3 1366.3,357.3 1367.4,349.3 1368.5,355.9 1369.6,349 1370.7,355.3 1371.8,347.2 1372.9,353.6 1374,345.8 1375.1,353.8 1376.2,345.6 1377.3,351.9 1378.4,344.9 1379.5,351.1 1380.6,344.8 1381.7,351 1382.8,344.1 1383.9,350.2 1385,342.6 1386.1,348.8 1387.2,341.7 1388.3,348.1 1389.4,340.8 1390.5,348.7 1391.6,340.5 1392.7,346.7 1393.8,339.8 1394.9,346.6 1396,338.2 1397.1,345.4 1398.2,337.7 1399.3,346.3 1400.4,337.3 1401.5,345.3 1402.6,337.5 1403.7,344.9 1404.8,336.3 1405.9,344.1 1407,334.8 1408.1,342.1 1409.2,334.5 1410.3,342.9 1411.4,335.3 1412.5,341.3 1413.6,333.5 1414.7,340.4 1415.8,332.7 1416.9,340.1 1418,332.2 1419.1,339.3 1420.2,332.3 1421.3,340.1 1422.4,332.3 1423.5,338.4 1424.6,331.2 1425.7,338 1426.8,331.5 1427.9,337.2 1429,330.8 1430.1,338.1 1431.2,329.3 1432.3,337.5 1433.4,329.7 1434.5,336.8 1435.6,329.3 1436.7,335.8 1437.8,327.9 1438.9,334.9 1440,326.9 1441.1,334.8 1442.2,327.1 1443.3,335.1 1444.4,327.6 1445.5,334.9 1446.6,326.2 1447.7,333.4 1448.8,325.5 1449.9,332.8 1451,324.8 1452.1,333 1453.2,325.6 1454.3,333 1455.4,325.1 1456.5,331.6 1457.6,324.2 1458.7,330.9 1459.8,323.6 1460.9,330.9 1462,323.6 1463.1,331.9 1464.2,323.3 1465.3,330.9 1466.4,323.4 1467.5,329.3 1468.6,323.5 1469.7,329.1 1470.8,322.4 1471.9,330.6 1473,324.1 1473.7,333 1475.5,327 1476,334.6 1477.8,328.9 1478.5,337 1479.6,332 1480.7,338.5 1481.8,332.5 1482.9,339.2 1484,332.9 1485.1,340.3 1486.2,332.9 1487.3,340.2 1488.4,333.5 1489,342.5 1491,337.8 1491.1,347.2 1493.2,341.4 1493.5,349.5 1495.4,345.3 1495.6,354 1497.2,347.2 1498.3,356.4 1499.4,349.2 1500.5,356.5 1501.6,351.1 1502.7,358.3 1503.8,351.2 1504.9,358.9 1506,352.1 1507.1,360.2 1508.2,352.7 1509.3,361.9 1510.4,355.1 1511.5,363.3 1512.6,356.6 1513.3,363.7 1515.3,358.6 1515.4,367.4 1517.4,363.4 1517.8,371.7 1519.4,365.9 1520,373.6 1521.4,366.2 1522.5,374.3 1523.6,368.7 1524.7,376.3 1525.8,369.3 1526.9,377.5 1528,369.9 1529.1,377.8 1530.2,372 1531.3,379.2 1532.4,373.6 1533.5,381.3 1534.6,373.2 1535.7,381.9 1536.8,375.6 1537.9,383.1 1539,375.1 1540.1,383.4 1541.2,376.1 1542.3,384.3 1543.4,378 1544.5,384.6 1545.6,378.9 1546.7,385.4 1547.8,379.7 1548.9,387.7 1550,380 1551.1,388.8 1552.2,381 1553.3,388.8 1554.4,382.2 1555.5,390.1 1556.6,382.8 1557.7,391.2 1558.8,384.7 1559.9,392.4 1561,384.4 1562.1,392.6 1563.2,385.6 1564.3,393.2 1565.4,387.7 1566.5,394.7 1567.6,388 1568.7,397.2 1569.8,389.2 1570.9,397.3 1572,390.1 1573.1,398.5 1574.2,392.5 1575.3,400.7 1576.4,393 1577.5,405.4 1578.6,394.1 1579.7,407.6 1580.8,395.6 1581.9,408.3 1583,396.2 1584.1,409.1 1585.2,397.4 1586.3,409.3 1587.4,397.9 1588.5,408.5 1589.6,399.2 1590.7,410.4 1591.8,400.2 1592.9,412.1 1594,400.8 1595.1,409.7 1596.2,401.6 1597.3,413.6 1598.4,401.8 1599.5,411.4 1600.6,402.8 1601.7,411.3 1602.8,401.8 1603.9,413.7 1605,402.1 1606.1,410.4 1607.2,403.5 1608.3,410.4 1609.4,403.2 1610.5,411.1 1611.6,402.7 1612.7,411.5 1613.8,404.3 1614.9,411.7 1616,403 1617.1,412.1 1618.2,404.8 1619.3,411 1620.4,405 1621.5,410.9 1622.6,403.9 1623.7,412.6 1624.8,404.6 1625.9,412.9 1627,404.8 1628.1,412.2 1629.2,406.1 1630.3,412.1 1631.4,405.1 1632.5,412.6 1633.6,406.2 1634.7,413.2 1635.8,407 1636.9,413.2 1638,406.8 1639.1,414.3 1640.2,406.9 1641.3,413.8 1642.4,406.1 1643.5,414.4 1644.6,406.5 1645.7,414.9 1646.8,408.3 1647.9,414.8 1649,407.8 1650.1,415.7 1651.2,408.2 1652.3,415.7 1653.4,408 1654.5,415 1655.6,407.6 1656.7,414.9 1657.8,407.8 1658.9,415.3 1660,409.5 1661.1,415.5 1662.2,408.3 1663.3,417.1 1664.4,409.8 1665.5,416.4 1666.6,409.1 1667.7,417.1 1668.8,409.9 1669.9,416.7 1671,409.7 1672.1,417.5 1673.2,410.1 1674.3,417.9 1675.4,410.2 1676.5,416.7 1677.6,409.6 1678.7,417.4 1679.8,410.8 1680.9,417.8 1682,411.1 1683.1,418.3 1684.2,410.1 1685.3,418.4 1686.4,410.4 1687.5,417.8 1688.6,411 1689.7,418.1 1690.8,410.3 1691.9,417.6 1693,410.4 1694.1,417.7 1695.2,411.8 1696.3,418.3 1697.4,410.7 1698.5,418.9 1699.6,411.8 1700.7,419.7 1701.8,412.2 1702.9,419.1 1704,411.8 1705.1,419.8 1706.2,411.6 1707.3,419.7 1708.4,412.4 1709.5,419.3 1710.6,413 1711.7,420.4 1712.8,412.2 1713.9,420.4 1715,413.2 1716.1,419.9 1717.2,412.3 1718.3,420.4 1719.4,413.6 1720.5,420.3 1721.6,412.4 1722.7,420 1723.8,413.8 1724.9,420.3 1726,413 1727.1,421.4 1728.2,414.2 1729.3,420.3 1730.4,414.1 1731.5,420.8 1732.6,413.8 1733.7,420.6 1734.8,414.3 1735.9,420.8 1737,413.2 1738.1,422 1739.2,415 1740.3,422.5 1741.4,415.1 1742.5,421.5 1743.6,413.5 1744.7,422.3 1745.8,414 1746.9,421.7 1748,415.1 1749.1,422.2 1750.2,415.3 1751.3,421.4 1752.4,414.8 1753.5,421.2 1754.6,414.9 1755.7,422.6 1756.8,414.4 1757.9,422.1 1759,414.6 1760.1,422.1 1761.2,415.5 1762.3,422.5 1763.4,415.1 1764.5,422.8 1765.6,414.2 1766.7,422.2 1767.8,414.9 1768.9,422.9 1770,415.2 1771.1,422 1772.2,414.7 1773.3,423.2 1774.4,414.7 1775.5,423 1776.6,414.6 1777.7,423 1778.8,415.1 1779.9,422.6 1781,415.7 1782.1,423 1783.2,416.2 1784.3,422.7 1785.4,415 1786.5,423.3 1787.6,415.3 1788.7,422.5 1789.8,415.8 1790.9,422.9 1792,415.4 1793.1,422.9 1794.2,415.4 1795.3,423.9 1796.4,416.3 1797.5,423.4 1798.6,415.2 1799.7,422.9 1800.8,415.8 1801.9,424 1803,416.7 1804.1,423.3 1805.2,416.5 1806.3,423.8 1807.4,415.1 1808.5,423.3 1809.6,416.7 1810.7,423.4 1811.8,415.9 1812.9,423.7 1814,416 1815.1,423.6 1816.2,415.4 1817.3,423.5 1818.4,416.2 1819.5,424.3 1820.6,416.6 1821.7,423.8 1822.8,416.3 1823.9,424 1825,416.9 1826.1,424.4 1827.2,416.5 1828.3,422.8 1829.4,416.7 1830.5,423.4 1831.6,417.2 1832.7,423.5 1833.8,416.5 1834.9,424.1 1836,416.6 1837.1,423.3 1838.2,416.9 1839.3,424.2 1840.4,415.6 1841.5,423.8 1842.6,416.9 1843.7,424.3 1844.8,416.6 1845.9,423.2 1847,417 1848.1,424.2 1849.2,415.8 1850.3,423.9 1851.4,416.4 1852.5,423.8 1853.6,416.8 1854.7,424.5 1855.8,416.5 1856.9,423.9 1858,415.7 1859.1,424.2 1860.2,416.3 1861.3,423.2 1862.4,416.1 1863.5,422.9 1864.6,415.6 1865.7,423.3 1866.8,415.5 1867.9,423.1 1869,416.4 1870.1,423 1871.2,416.2 1872.3,422.9 1873.4,417 1874.5,423.8 1875.6,416.5 1876.7,422.9 1877.8,416.4 1878.9,423.4 1880,416.2 1881.1,423.6 1882.2,415.7 1883.3,423.1 1884.4,415.2 1885.5,424 1886.6,416.8 1887.7,423.9 1888.8,415.2 1889.9,423.8 1891,416.6 1892.1,423.9 1893.2,415.6 1894.3,422.3 1895.4,416.7 1896.5,424 1897.6,415.5 1898.7,422.7 1899.8,416.5 1900.9,422.4 1902,416.2 1903.1,423.6 1904.2,416 1905.3,422.4 1906.4,414.9 1907.5,423.5 1908.6,416.2 1909.7,423.7 1910.8,415.4 1911.9,423.4 1913,415.2 1914.1,423.6 1915.2,415 1916.3,423.5 1917.4,416 1918.5,423.2 1919.6,415.4 1920.7,423.2 1921.8,415.5 1922.9,423.5 1924,415.3 1925.1,422.3 1926.2,415.8 1927.3,422 1928.4,415.3 1929.5,421.8 1930.6,415.3 1931.7,421.9 1932.8,415.1 1933.9,422.4 1935,414.9 1936.1,423 1937.2,415.8 1938.3,422.9 1939.4,414.9 1940.5,422.3 1941.6,414.4 1942.7,422.7 1943.8,414.9 1944.9,421.8 1946,413.7 1947.1,421.1 1948.2,414.2 1949.3,422 1950.4,415.2 1953.5,421.4 1954.6,408.1 1955.7,422.4 1956.8,409.2 1957.9,422.2 1959,408.1 1960.1,419.9 1961.2,406.2 1962.3,417.7 1963.4,406.6 1964.5,419.8 1965.6,407.7 1966.7,420.4 1967.8,407.3 1968.9,418.5 1970,406.3 1971.1,419.3 1972.2,407.2 1973.3,417.6 1974.4,406 1975.5,417.8 1976.6,404.1 1977.7,416.4 1978.8,403.8 1979.9,416.5 1981,404.7 1982.1,415.6 1983.2,404.4 1984.3,418.1 1985.4,403.4 1986.5,417.1 1987.6,404.4 1988.7,414.8 1989.8,404.1 1990.9,415.4 1992,402.3 1993.1,415.7 1994.2,404.2 1995.3,415 1996.4,400.3 1997.5,413.8 1998.6,403.2 1999.7,412.3 2000.8,402.8 2001.9,411.4 2003,399 2004.1,413.3 2005.2,400.6 2006.3,414.6"/>
<polyline stroke="#de8f05" stroke-width="12.8" points="2006.5,409.5 2009.5,415.5 2011.3,416.2 2034.5,419.1"/>
<line stroke="#de8f05" stroke-width="12.8" x1="2054.5" y1="421.1" x2="2089.5" y2="423.7"/>
</g>
<g fill="#000">
<rect x="741" y="1480" width="5" height="22.7"/>
<rect x="1190" y="1480" width="5" height="22.7"/>
<rect x="1638" y="1480" width="5" height="22.7"/>
<rect x="293" y="1480" width="6" height="22.7"/>
<rect x="2087" y="1480" width="5" height="22.7"/>
<rect x="273.3" y="115" width="22" height="5"/>
<rect x="273.3" y="406" width="22" height="5"/>
<rect x="273.3" y="696" width="22" height="6"/>
<rect x="273.3" y="987" width="22" height="5"/>
<rect x="273.3" y="1278" width="22" height="5"/>
<rect x="293" y="26" width="6" height="1457"/>
<rect x="2087" y="26" width="5" height="1457"/>
<rect x="293" y="26" width="1799" height="6"/>
<rect x="293" y="1478" width="1799" height="5"/>
</g>
<g font-size="76.9">
<text x="296" y="1578.2" text-anchor="middle">0</text>
<text x="743.5" y="1578.2" text-anchor="middle">100</text>
<text x="1192.5" y="1578.2" text-anchor="middle">200</text>
<text x="1640.5" y="1578.2" text-anchor="middle">300</text>
<text x="2089.5" y="1578.2" text-anchor="middle">400</text>
<text x="249" y="143.8" text-anchor="end">1.05</text>
<text x="249" y="434.8" text-anchor="end">1.00</text>
<text x="249" y="725.3" text-anchor="end">0.95</text>
<text x="249" y="1015.8" text-anchor="end">0.90</text>
<text x="249" y="1306.8" text-anchor="end">0.85</text>
<text x="1192.6" y="1671.5" text-anchor="middle">Time [s]</text>
<text transform="translate(74.9 756.7) rotate(-90)" text-anchor="middle">Power [p.u.]</text>
</g>
<rect x="334" y="66.7" width="799" height="237.3" rx="13" ry="13" fill="#fff" fill-opacity="0.8" stroke="#ccc" stroke-opacity="0.8" stroke-width="6"/>
<line x1="364" y1="124.3" x2="517.8" y2="124.3" stroke="#0072b2" stroke-width="12.8" stroke-linecap="square"/>
<line x1="364" y1="232.1" x2="517.8" y2="232.1" stroke="#de8f05" stroke-width="12.8" stroke-dasharray="47.4 20.5"/>
<g font-size="76.9">
<text x="577.5" y="150.9">Measured Power</text>
<text x="577.5" y="258.7">Simulated Power</text>
</g>
<rect x="1594" y="25.8" width="491" height="120.2" rx="22" ry="22" fill="#f5deb3" fill-opacity="0.5" stroke="#000" stroke-opacity="0.5" stroke-width="6"/>
<text x="1840.3" y="100.6" text-anchor="middle" font-size="64" font-weight="bold" style="fill:#0000ff">RMSE = 1.24%</text>
</svg></body></html>
